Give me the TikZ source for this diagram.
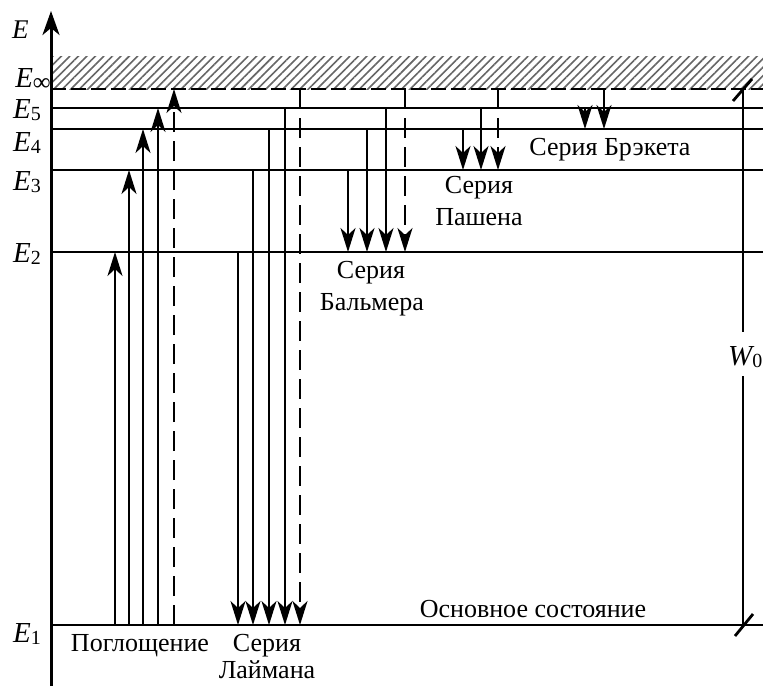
\documentclass[tikz,border=0pt]{standalone}
\usepackage{fontspec}
\setmainfont{Liberation Serif}
\usetikzlibrary{arrows.meta,patterns.meta}
\newcommand\sbx[1]{\raisebox{-2.5pt}{\fontsize{20}{20}\selectfont #1}}
\begin{document}
\begin{tikzpicture}[x=1pt,y=-1pt,
  level/.style={line width=2.8pt},
  trans/.style={line width=2.3pt,-{Stealth[length=24pt,width=15pt,inset=7pt]}},
  dtrans/.style={trans,dash pattern=on 20pt off 9pt},
  lbl/.style={font=\fontsize{26}{30}\selectfont, inner sep=0pt},
  elbl/.style={lbl, font=\fontsize{29}{30}\selectfont, anchor=base east},
  txt/.style={lbl, anchor=base}
]
\fill[white] (0,0) rectangle (763,686);
\useasboundingbox (0,0) rectangle (763,686);
% continuum hatch
\fill[pattern={Lines[angle=45,distance=6pt,line width=1.6pt]}, pattern color=black!60] (51,56) rectangle (763,89);
% levels
\foreach \n/\y in {inf/89, 5/108, 4/129, 3/170, 2/252, 1/625} {
  \coordinate (L\n-l) at (51,\y);
  \coordinate (L\n-r) at (763,\y);
}
\draw[level, dash pattern=on 15pt off 5pt] (Linf-l) -- (Linf-r);
\foreach \n in {5,4,3,2,1} { \draw[level] (L\n-l) -- (L\n-r); }
% axis
\coordinate (ax-b) at (51,686);
\coordinate (ax-t) at (51,11);
\draw[line width=3pt, -{Stealth[length=24pt,width=17pt,inset=7pt]}] (ax-b) -- (ax-t);
% solid transitions
\foreach \n/\x/\ya/\yb in {a1/115/625/252, a2/129/625/170, a3/143/625/129, a4/158/625/108,
   l2/238/252/625, l3/253/170/625, l4/269/129/625, l5/285/108/625,
   b3/348/170/252, b4/367/129/252, b5/386/108/252,
   p4/463/129/170, p5/481/108/170,
   r5/585/108/129, ri/604/89/129} {
  \coordinate (\n-s) at (\x,\ya);
  \coordinate (\n-e) at (\x,\yb);
  \draw[trans] (\n-s) -- (\n-e);
}
% dashed transitions
\foreach \n/\x/\ya/\yb in {ai/174/625/89, li/300/89/625, bi/405/89/252, pi/498/89/170} {
  \coordinate (\n-s) at (\x,\ya);
  \coordinate (\n-e) at (\x,\yb);
  \draw[dtrans] (\n-s) -- (\n-e);
}
% W0
\coordinate (w-t) at (743,89);
\coordinate (w-g1) at (743,332);
\coordinate (w-g2) at (743,376);
\coordinate (w-b) at (743,625);
\draw[level] (w-t) -- (w-g1);
\draw[level] (w-g2) -- (w-b);
\coordinate (tk1a) at (733,101); \coordinate (tk1b) at (752,79);
\coordinate (tk2a) at (735,636); \coordinate (tk2b) at (753,614);
\draw[level] (tk1a) -- (tk1b);
\draw[level] (tk2a) -- (tk2b);
\node[lbl, font=\fontsize{29}{30}\selectfont, anchor=base west] (W0) at (728,365) {\itshape W\sbx{\upshape 0}};
% level labels
\node[lbl, font=\fontsize{27}{30}\selectfont, anchor=base west] (lE) at (12,38) {\itshape E};
\node[elbl] (lEinf) at (51,87) {\itshape E\raisebox{-3pt}{\fontsize{25}{25}\selectfont\upshape ∞}};
\node[elbl] (lE5) at (41,118) {\itshape E\sbx{\upshape 5}};
\node[elbl] (lE4) at (41,151) {\itshape E\sbx{\upshape 4}};
\node[elbl] (lE3) at (41,190) {\itshape E\sbx{\upshape 3}};
\node[elbl] (lE2) at (41,262) {\itshape E\sbx{\upshape 2}};
\node[elbl] (lE1) at (41,642) {\itshape E\sbx{\upshape 1}};
% series labels
\node[txt] (abs) at (140,651) {Поглощение};
\node[txt] (ly1) at (267,651) {Серия};
\node[txt] (ly2) at (267,678) {Лаймана};
\node[txt] (gs) at (533,617) {Основное состояние};
\node[txt] (ba1) at (371,278) {Серия};
\node[txt] (ba2) at (372,310) {Бальмера};
\node[txt] (pa1) at (479,193) {Серия};
\node[txt] (pa2) at (479,225) {Пашена};
\node[txt] (br) at (610,155) {Серия Брэкета};
\end{tikzpicture}
\end{document}
